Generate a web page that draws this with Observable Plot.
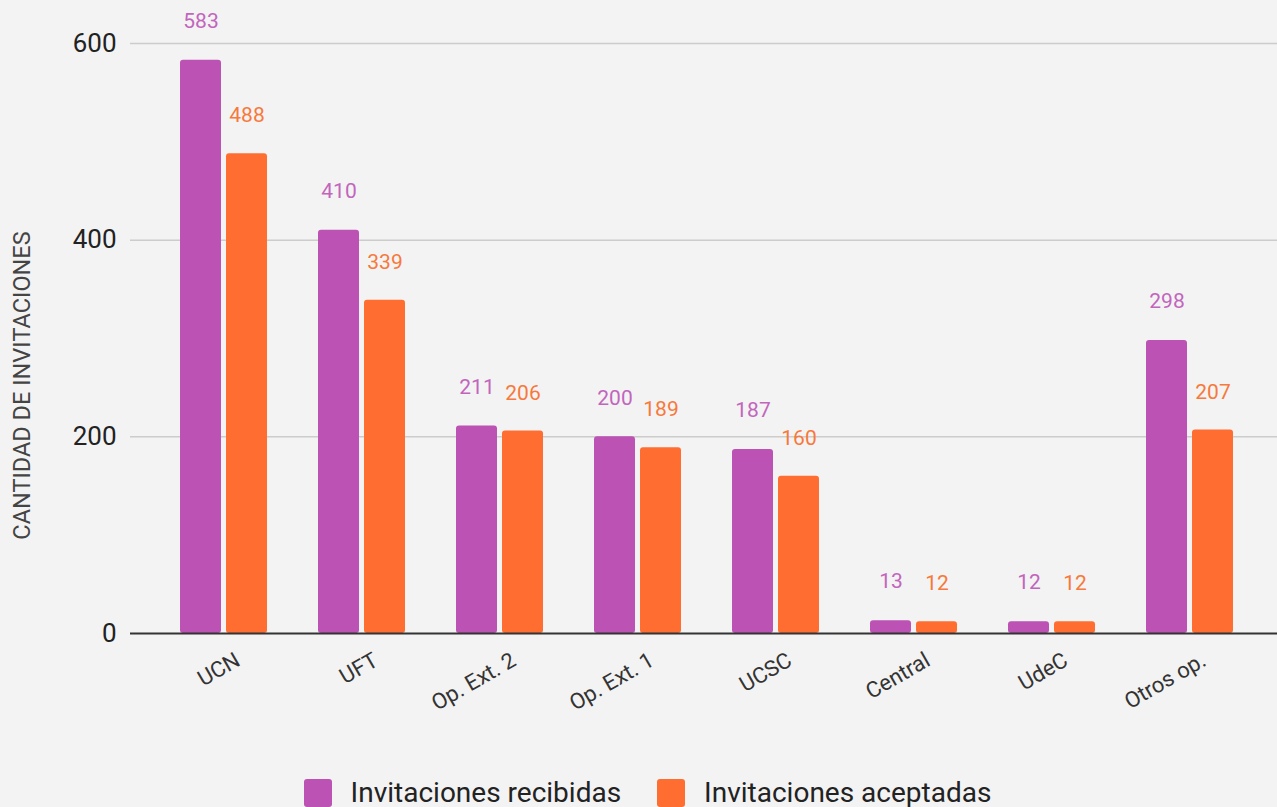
<!DOCTYPE html>
<html>
<head>
<meta charset="utf-8">
<script src="https://cdn.jsdelivr.net/npm/d3@7"></script>
<script src="https://cdn.jsdelivr.net/npm/@observablehq/plot@0.6"></script>
<style>
  html, body { margin: 0; padding: 0; background: #f3f3f3; }
  body { width: 1277px; height: 807px; overflow: hidden; font-family: Roboto, sans-serif; }
  #legend { display: flex; justify-content: center; align-items: center; gap: 36px; margin-top: 26px; margin-left: 18px; }
  .item { display: flex; align-items: center; font-size: 28px; color: #222; }
  .sw { width: 28px; height: 28px; border-radius: 3px; margin-right: 19px; }
</style>
</head>
<body>
<div id="chart"></div>
<div id="legend"></div>
<script>
const categories = ["UCN", "UFT", "Op. Ext. 2", "Op. Ext. 1", "UCSC", "Central", "UdeC", "Otros op."];
const recibidas = [583, 410, 211, 200, 187, 13, 12, 298];
const aceptadas = [488, 339, 206, 189, 160, 12, 12, 207];
const seriesNames = ["Invitaciones recibidas", "Invitaciones aceptadas"];
const yTicks = [0, 200, 400, 600];
const yTitle = "CANTIDAD DE INVITACIONES";

const purple = "#bc52b4";
const orange = "#ff6d31";
const purpleText = "#c265bd";
const orangeText = "#f7793c";

const rows = categories.map((c, i) => ({cat: c, rec: recibidas[i], acc: aceptadas[i]}));

const chart = Plot.plot({
  width: 1277,
  height: 750,
  marginLeft: 130,
  marginRight: 0,
  marginTop: 43,
  marginBottom: 117,
  style: {background: "#f3f3f3", fontFamily: "Roboto, sans-serif"},
  x: {domain: categories, paddingInner: 0.37, paddingOuter: 0.333, align: 0.53},
  y: {domain: [0, 600]},
  marks: [
    Plot.ruleY(yTicks.filter(d => d > 0), {stroke: "#cccccc", strokeWidth: 1.5}),
    Plot.axisY({ticks: yTicks, tickSize: 0, tickPadding: 14, fontSize: 26, label: null, color: "#222"}),
    Plot.axisX({tickSize: 0, tickRotate: -30, fontSize: 22, tickPadding: 25, dx: 14, label: null, color: "#333"}),
    Plot.barY(rows, {x: "cat", y: "rec", fill: purple, insetRight: 46, rx: 3}),
    Plot.barY(rows, {x: "cat", y: "acc", fill: orange, insetLeft: 46, rx: 3}),
    Plot.ruleY([0], {stroke: "#333", strokeWidth: 2}),
    Plot.text(rows, {x: "cat", y: "rec", text: d => String(d.rec), dx: -23, dy: -39, fill: purpleText, fontSize: 21}),
    Plot.text(rows, {x: "cat", y: "acc", text: d => String(d.acc), dx: 23, dy: -38, fill: orangeText, fontSize: 21}),
    Plot.text([yTitle], {text: d => d, frameAnchor: "left", textAnchor: "middle", rotate: -90, dx: -108, dy: 47, fontSize: 23.5, fill: "#444"})
  ]
});
document.getElementById("chart").appendChild(chart);

const legend = document.getElementById("legend");
[[seriesNames[0], purple], [seriesNames[1], orange]].forEach(([name, col]) => {
  const it = document.createElement("div");
  it.className = "item";
  const sw = document.createElement("div");
  sw.className = "sw";
  sw.style.background = col;
  it.appendChild(sw);
  const t = document.createElement("span");
  t.textContent = name;
  it.appendChild(t);
  legend.appendChild(it);
});
</script>
</body>
</html>
